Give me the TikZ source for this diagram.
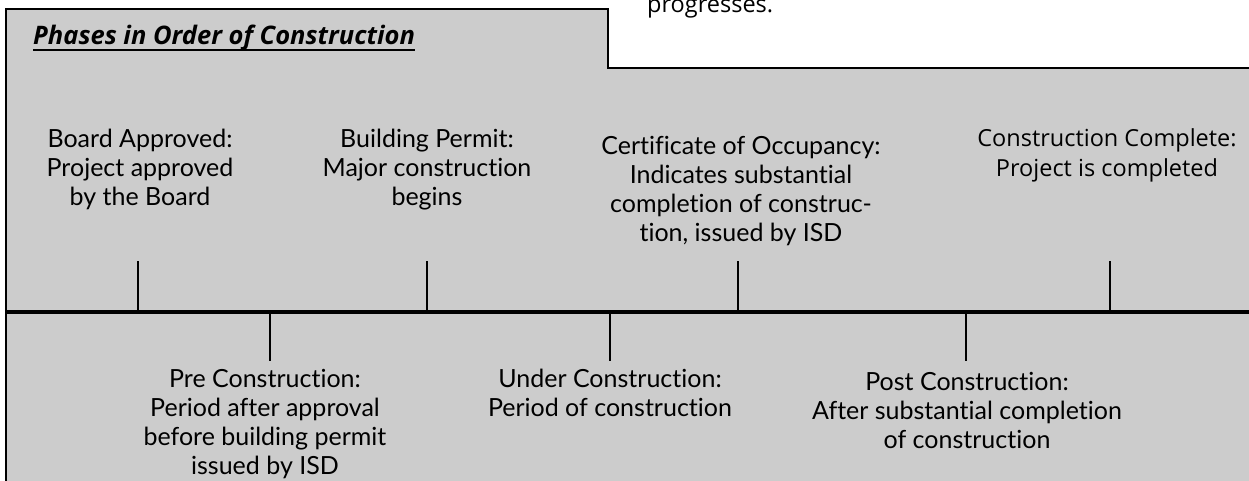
\documentclass[tikz,border=0pt]{standalone}
\usepackage{fontspec}
\setmainfont{Lato}[Ligatures={NoCommon,NoRare}]
\newfontfamily\uifont{Open Sans}
\definecolor{panel}{RGB}{204,204,204}
\begin{document}
\begin{tikzpicture}[x=1pt,y=-1pt,
  body/.style={align=center, inner sep=0pt, anchor=base, text=black,
    font=\fontsize{25}{29}\selectfont},
  uibody/.style={align=center, inner sep=0pt, anchor=base, text=black,
    font=\uifont\fontsize{23.5}{29}\selectfont},
  tickline/.style={line width=1.6pt, black},
  frame/.style={line width=2.6pt, black},
  axis/.style={line width=3.6pt, black}]
\useasboundingbox (0,0) rectangle (1249,481);
% panel and tab
\fill[panel] (6,9) -- (608,9) -- (608,68) -- (1249,68) -- (1249,481) -- (6,481) -- cycle;
\draw[frame] (6,481) -- (6,9) -- (608,9) -- (608,68) -- (1249,68);
% header
\node[anchor=base west, inner sep=0pt,
  font=\uifont\bfseries\itshape\fontsize{25.5}{30}\selectfont] (hdr) at (33,45) {Phases in Order of Construction};
\draw[line width=2pt] ([yshift=-5pt]hdr.base west) -- ([yshift=-5pt]hdr.base east);
\node[uibody, anchor=base west] (prog) at (647,13) {progresses.};
% timeline
\coordinate (axl) at (6,312);
\coordinate (axr) at (1249,312);
\draw[axis] (axl) -- (axr);
% upper labels (anchor = baseline of last line)
\node[body] (board) at (140,205) {Board Approved:\\Project approved\\by the Board};
\node[body] (permit) at (427,205) {Building Permit:\\Major construction\\begins};
\node[body] (cert) at (741,241) {Certificate of Occupancy:\\Indicates substantial\\completion of construc-\\tion, issued by ISD};
\node[uibody] (complete) at (1107,176) {Construction Complete:\\Project is completed};
% lower labels
\node[body] (pre) at (265,474) {Pre Construction:\\Period after approval\\before building permit\\issued by ISD};
\node[body] (under) at (610,416) {Under Construction:\\Period of construction};
\node[body] (post) at (967,448) {Post Construction:\\After substantial completion\\of construction};
% ticks above
\coordinate (ua1) at (138,261); \coordinate (ub1) at (138,311);
\coordinate (ua2) at (427,261); \coordinate (ub2) at (427,311);
\coordinate (ua3) at (738,261); \coordinate (ub3) at (738,311);
\coordinate (ua4) at (1110,261); \coordinate (ub4) at (1110,311);
\draw[tickline] (ua1) -- (ub1);
\draw[tickline] (ua2) -- (ub2);
\draw[tickline] (ua3) -- (ub3);
\draw[tickline] (ua4) -- (ub4);
% ticks below
\coordinate (la1) at (270,313); \coordinate (lb1) at (270,361);
\coordinate (la2) at (610,313); \coordinate (lb2) at (610,361);
\coordinate (la3) at (966,313); \coordinate (lb3) at (966,361);
\draw[tickline] (la1) -- (lb1);
\draw[tickline] (la2) -- (lb2);
\draw[tickline] (la3) -- (lb3);
\end{tikzpicture}
\end{document}
